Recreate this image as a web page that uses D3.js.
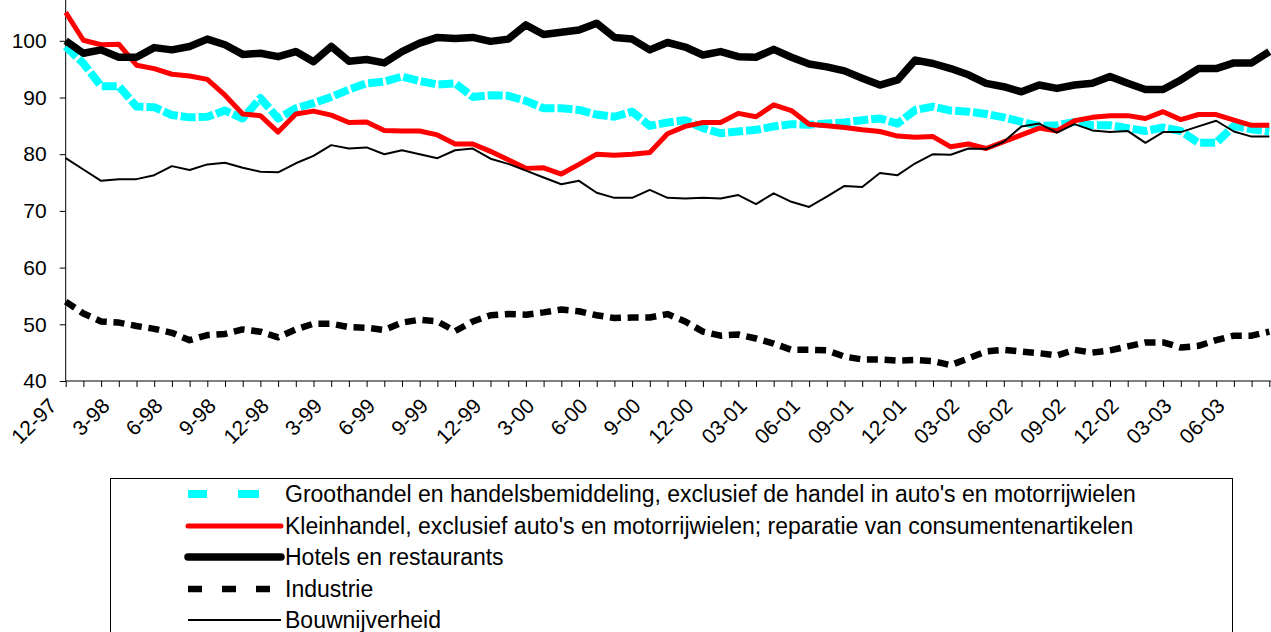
<!DOCTYPE html>
<html><head><meta charset="utf-8">
<script src="https://cdn.jsdelivr.net/npm/d3@7"></script>
<style>
body{margin:0;background:#fff;overflow:hidden}
svg{display:block}
text{font-family:"Liberation Sans",Arial,sans-serif;fill:#000}
</style>
</head><body>
<svg id="chart" width="1271" height="632"></svg>
<script>
const categories = ["12-97",
 "1-98","2-98","3-98","4-98","5-98","6-98","7-98","8-98","9-98","10-98","11-98","12-98",
 "1-99","2-99","3-99","4-99","5-99","6-99","7-99","8-99","9-99","10-99","11-99","12-99",
 "1-00","2-00","3-00","4-00","5-00","6-00","7-00","8-00","9-00","10-00","11-00","12-00",
 "01-01","02-01","03-01","04-01","05-01","06-01","07-01","08-01","09-01","10-01","11-01","12-01",
 "01-02","02-02","03-02","04-02","05-02","06-02","07-02","08-02","09-02","10-02","11-02","12-02",
 "01-03","02-03","03-03","04-03","05-03","06-03","07-03","08-03"];
const tickLabels = ["12-97","3-98","6-98","9-98","12-98","3-99","6-99","9-99","12-99","3-00","6-00","9-00",
 "12-00","03-01","06-01","09-01","12-01","03-02","06-02","09-02","12-02","03-03","06-03"];
const yTicks = [40,50,60,70,80,90,100];

const groothandel = [99.0,96.0,92.0,92.0,88.4,88.3,86.9,86.5,86.6,87.7,86.3,89.9,86.3,88.1,89.0,90.1,91.4,92.5,92.8,93.7,92.9,92.3,92.5,90.1,90.4,90.3,89.4,88.1,88.1,87.8,87.0,86.6,87.5,85.0,85.6,86.0,84.6,83.7,84.0,84.3,84.9,85.3,85.2,85.4,85.6,86.0,86.3,85.4,87.8,88.4,87.7,87.5,87.1,86.5,85.7,85.0,85.1,85.7,85.1,85.1,84.6,84.1,84.7,84.1,82.0,82.0,85.0,84.4,84.0];
const kleinhandel = [105.0,100.1,99.3,99.4,95.7,95.1,94.1,93.8,93.2,90.4,87.1,86.8,83.9,87.1,87.6,86.9,85.6,85.7,84.2,84.1,84.1,83.4,81.8,81.8,80.5,79.0,77.5,77.6,76.5,78.2,80.0,79.8,80.0,80.3,83.6,84.9,85.6,85.6,87.2,86.6,88.7,87.7,85.3,85.0,84.7,84.3,84.0,83.2,83.0,83.1,81.3,81.8,81.0,82.2,83.4,84.6,84.1,85.9,86.5,86.8,86.8,86.3,87.5,86.1,87.0,87.0,86.0,85.1,85.1];
const hotels = [100.0,97.8,98.4,97.1,97.1,98.8,98.4,99.0,100.3,99.3,97.6,97.8,97.2,98.1,96.3,99.0,96.4,96.7,96.1,98.1,99.6,100.6,100.4,100.6,99.9,100.3,102.8,101.1,101.5,101.9,103.1,100.6,100.3,98.4,99.7,98.9,97.5,98.1,97.2,97.1,98.5,97.1,95.9,95.4,94.7,93.4,92.2,93.1,96.6,96.0,95.1,94.0,92.5,91.9,91.0,92.2,91.6,92.2,92.5,93.7,92.5,91.4,91.4,93.1,95.1,95.1,96.1,96.1,98.1];
const industrie = [54.0,51.9,50.5,50.3,49.7,49.2,48.5,47.2,48.1,48.3,49.1,48.7,47.7,49.1,50.1,50.1,49.5,49.4,49.0,50.3,50.8,50.5,48.8,50.5,51.6,51.8,51.7,52.1,52.6,52.3,51.6,51.1,51.2,51.2,51.8,50.5,48.7,48.0,48.2,47.5,46.6,45.5,45.5,45.4,44.3,43.8,43.8,43.6,43.7,43.5,42.8,44.0,45.2,45.5,45.2,44.9,44.5,45.5,45.0,45.4,46.1,46.8,46.8,45.9,46.2,47.2,48.0,48.0,48.7];
const bouwnijverheid = [79.3,77.3,75.3,75.6,75.6,76.3,77.9,77.2,78.2,78.5,77.6,76.9,76.8,78.4,79.7,81.6,81.0,81.2,80.0,80.7,80.0,79.3,80.7,81.0,79.2,78.3,77.1,75.9,74.7,75.3,73.2,72.3,72.3,73.7,72.3,72.2,72.3,72.2,72.8,71.2,73.1,71.6,70.7,72.5,74.4,74.2,76.7,76.3,78.4,80.0,79.9,81.0,80.9,82.2,84.9,85.4,83.8,85.3,84.2,83.9,84.1,82.0,83.9,83.9,84.9,85.9,84.0,83.1,83.1];

const seriesNames = [
 "Groothandel en handelsbemiddeling, exclusief de handel in auto's en motorrijwielen",
 "Kleinhandel, exclusief auto's en motorrijwielen; reparatie van consumentenartikelen",
 "Hotels en restaurants",
 "Industrie",
 "Bouwnijverheid"];
const seriesValues = [groothandel, kleinhandel, hotels, industrie, bouwnijverheid];
const seriesStyle = [
 {color:"#00FFFF", width:8, dash:"15,3", legendDash:"19,31,21,100", cap:"butt"},
 {color:"#FF0000", width:5, dash:null, legendDash:null, cap:"round"},
 {color:"#000000", width:7.5, dash:null, legendDash:null, cap:"round"},
 {color:"#000000", width:6.5, dash:"11,6.7", legendDash:"14,20,14,20,14", cap:"butt"},
 {color:"#000000", width:2, dash:null, legendDash:null, cap:"butt"}];

const svg = d3.select("#chart");
const x0 = 65.7, x1 = 65.7 + 68*17.7;
const x = d3.scalePoint().domain(categories).range([x0, x1]);
const yBase = 381, pxPer10 = 56.7;
const y = d3.scaleLinear().domain([40, 110]).range([yBase, yBase - 7*pxPer10]);

// axes
const yAxis = d3.axisLeft(y).tickValues(yTicks).tickSize(6).tickPadding(13).tickFormat(d3.format("d"));
const gy = svg.append("g").attr("transform",`translate(${x0},0)`).call(yAxis);
gy.select(".domain").remove();
gy.append("line").attr("x1",0).attr("x2",0).attr("y1",yBase).attr("y2",0).attr("stroke","#000");
gy.selectAll("text").style("font-size","21px");

const xAxis = d3.axisBottom(x).tickValues(categories).tickSize(6).tickFormat("");
const gx = svg.append("g").attr("transform",`translate(0,${yBase})`).call(xAxis);
gx.select(".domain").remove();
gx.append("line").attr("x1",x0).attr("x2",1271).attr("y1",0).attr("y2",0).attr("stroke","#000");

svg.append("g").selectAll("text").data(tickLabels).join("text")
  .attr("transform", d => `translate(${x(d)-13},${yBase+21}) rotate(-45)`)
  .attr("text-anchor","end").attr("dy","0.35em").style("font-size","21px").text(d => d);

// lines
const line = d3.line().x((d,i) => x(categories[i])).y(d => y(d));
seriesValues.forEach((vals, k) => {
  const st = seriesStyle[k];
  svg.append("path").datum(vals).attr("d", line)
    .attr("fill","none").attr("stroke", st.color).attr("stroke-width", st.width)
    .attr("stroke-linejoin","round")
    .attr("stroke-dasharray", st.dash);
});

// legend
const lg = svg.append("g");
lg.append("rect").attr("x",110.5).attr("y",478.5).attr("width",1122).attr("height",200)
  .attr("fill","#fff").attr("stroke","#000");
const rowY = [494, 526, 557, 589, 620];
seriesNames.forEach((name, k) => {
  const st = seriesStyle[k];
  lg.append("line").attr("x1",188).attr("x2",281).attr("y1",rowY[k]).attr("y2",rowY[k])
    .attr("stroke", st.color).attr("stroke-width", st.width)
    .attr("stroke-linecap", st.cap)
    .attr("stroke-dasharray", st.legendDash);
  lg.append("text").attr("x",285).attr("y",rowY[k]).attr("dy","0.35em")
    .style("font-size","23px").text(name);
});
</script>
</body></html>
